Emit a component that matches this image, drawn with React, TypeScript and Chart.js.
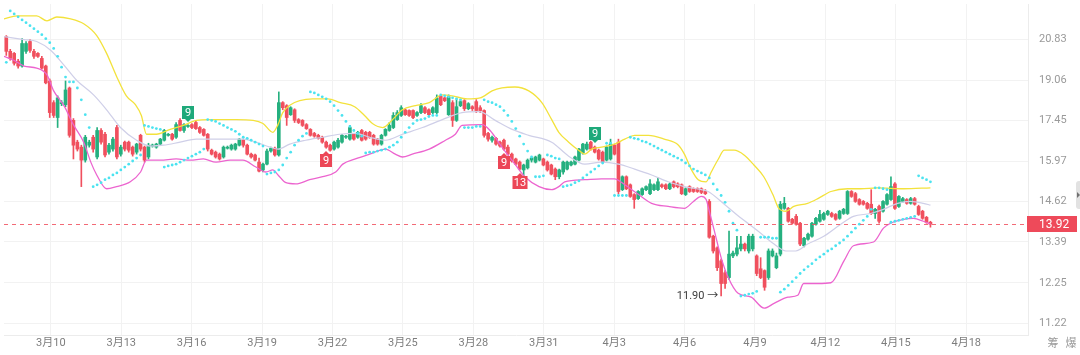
import React, { useEffect, useRef } from "react";
import { Chart, registerables } from "chart.js";

Chart.register(...registerables);

// ---------- data ----------
// candles: [open, high, low, close], 4h bars
const candles: number[][] = [
  [20.96,21.01,20.12,20.30],[20.30,20.39,19.91,19.99],[20.21,20.25,19.70,19.78],[19.87,19.95,19.57,19.66],[19.66,20.87,19.61,20.65],[20.30,20.74,20.21,20.65],
  [20.74,20.83,20.25,20.34],[20.30,20.39,19.99,20.08],[20.21,20.25,20.03,20.08],[19.99,20.08,19.53,19.57],[19.66,19.70,18.91,18.95],[19.03,19.11,17.57,17.76],
  [18.15,18.23,17.57,17.65],[17.57,18.42,17.19,18.34],[18.11,18.23,18.03,18.15],[18.07,19.03,17.99,18.66],[18.74,18.78,16.83,16.90],[17.46,17.53,16.05,16.54],
  [16.65,16.72,16.33,16.40],[16.47,16.54,15.11,16.01],[16.01,16.90,15.94,16.83],[16.54,16.72,16.47,16.65],[16.83,16.90,16.29,16.40],[16.12,17.19,16.05,17.08],
  [17.08,17.15,16.58,16.65],[16.94,17.01,16.12,16.19],[16.29,16.61,16.22,16.54],[16.40,16.83,16.33,16.76],[17.19,17.27,16.05,16.12],[16.22,16.54,16.15,16.47],
  [16.65,16.69,16.33,16.40],[16.65,16.69,16.29,16.36],[16.47,16.51,16.15,16.22],[16.29,16.61,16.22,16.58],[16.90,16.94,16.33,16.40],[16.47,16.51,15.94,16.01],
  [16.12,16.61,16.05,16.54],[16.51,16.58,16.47,16.54],[16.47,16.61,16.43,16.58],[16.58,16.79,16.54,16.76],[16.72,17.12,16.69,17.08],[16.90,16.97,16.87,16.94],
  [16.94,16.97,16.72,16.76],[16.83,17.38,16.79,17.30],[17.46,17.53,17.05,17.08],[17.08,17.34,17.01,17.30],[17.23,17.30,17.19,17.27],[17.30,17.34,17.15,17.19],
  [17.38,17.42,17.12,17.15],[17.19,17.23,16.97,17.01],[17.12,17.15,16.87,16.90],[16.94,16.97,16.33,16.40],[16.36,16.40,16.19,16.22],[16.29,16.33,16.08,16.12],
  [16.22,16.26,16.01,16.05],[16.12,16.51,16.08,16.47],[16.43,16.51,16.40,16.47],[16.40,16.58,16.36,16.54],[16.40,16.61,16.36,16.58],[16.54,16.79,16.51,16.76],
  [16.72,16.76,16.47,16.54],[16.54,16.58,16.19,16.22],[16.22,16.26,16.08,16.12],[16.19,16.22,15.98,16.01],[15.94,16.08,15.60,15.63],[15.67,15.91,15.60,15.87],
  [15.87,16.40,15.84,16.33],[16.33,16.47,16.29,16.43],[16.43,16.47,16.15,16.19],[16.19,18.58,16.15,18.15],[18.15,18.19,17.87,17.95],[18.03,18.07,17.27,17.57],
  [17.68,17.99,17.65,17.95],[17.87,17.91,17.38,17.46],[17.49,17.53,17.34,17.38],[17.46,17.49,17.23,17.27],[17.30,17.34,17.12,17.15],[17.12,17.15,16.87,16.90],
  [16.97,17.01,16.83,16.87],[16.90,16.94,16.76,16.79],[16.83,16.87,16.61,16.65],[16.65,16.69,16.43,16.47],[16.54,16.58,16.33,16.36],[16.40,16.69,16.36,16.65],
  [16.47,16.79,16.43,16.72],[16.65,16.94,16.61,16.90],[16.83,16.90,16.79,16.87],[16.76,17.27,16.72,17.19],[16.94,16.97,16.72,16.76],[16.83,17.05,16.79,17.01],
  [17.08,17.12,16.69,16.72],[17.01,17.05,16.72,16.76],[17.01,17.05,16.79,16.83],[16.90,16.94,16.54,16.58],[16.76,16.79,16.54,16.58],[16.58,16.94,16.54,16.90],
  [16.90,17.15,16.87,17.12],[17.08,17.38,17.05,17.27],[17.19,17.76,17.15,17.65],[17.49,17.84,17.46,17.76],[17.65,18.03,17.61,17.95],[17.87,17.91,17.65,17.68],
  [17.84,17.87,17.61,17.65],[17.84,17.87,17.53,17.57],[17.65,17.80,17.61,17.76],[17.76,18.11,17.72,18.03],[17.95,17.99,17.72,17.76],[17.87,17.91,17.65,17.68],
  [17.76,17.99,17.72,17.95],[17.76,18.46,17.72,18.34],[18.42,18.46,18.03,18.07],[18.34,18.38,18.19,18.23],[17.68,18.46,17.65,18.38],[18.15,18.23,17.23,17.46],
  [17.46,18.30,17.42,17.99],[18.03,18.27,17.99,18.19],[18.23,18.27,17.84,17.91],[17.91,18.15,17.87,18.11],[17.99,18.03,17.84,17.91],[18.19,18.27,17.76,17.84],
  [17.95,18.03,17.76,17.84],[17.84,17.87,16.83,16.90],[16.97,17.01,16.69,16.76],[16.72,16.87,16.65,16.83],[16.79,16.83,16.54,16.58],[16.65,16.69,16.47,16.51],
  [16.72,16.76,16.36,16.40],[16.47,16.54,16.19,16.22],[16.22,16.26,15.94,15.98],[16.05,16.08,15.84,15.87],[15.94,15.98,15.67,15.70],[15.67,15.87,15.44,15.84],
  [15.74,16.05,15.70,16.01],[16.01,16.12,15.94,16.08],[15.94,16.15,15.91,16.12],[16.01,16.22,15.98,16.19],[16.05,16.08,15.81,15.84],[15.94,15.98,15.63,15.67],
  [15.84,15.87,15.50,15.53],[15.70,15.74,15.34,15.44],[15.44,15.70,15.37,15.67],[15.60,15.98,15.53,15.94],[15.70,15.98,15.67,15.94],[15.84,15.98,15.81,15.94],
  [15.87,16.15,15.84,16.12],[16.01,16.43,15.98,16.40],[16.26,16.61,16.22,16.58],[16.40,16.65,16.36,16.58],[16.65,16.69,16.36,16.40],[16.47,16.51,16.26,16.29],
  [16.36,16.40,16.01,16.05],[16.29,16.33,15.91,15.94],[16.01,16.51,15.98,16.47],[16.05,16.76,16.01,16.58],[16.54,16.58,16.19,16.22],[16.65,16.76,14.88,14.95],
  [15.01,15.47,14.98,15.44],[15.44,15.47,15.01,15.04],[15.17,15.20,14.76,14.79],[14.85,14.88,14.41,14.69],[14.72,14.98,14.69,14.95],[14.85,15.07,14.82,15.04],
  [15.01,15.14,14.98,15.11],[14.88,15.34,14.85,15.20],[15.01,15.20,14.98,15.17],[15.01,15.40,14.98,15.27],[15.17,15.20,15.07,15.11],[15.17,15.20,15.01,15.04],
  [15.04,15.24,15.01,15.20],[15.27,15.30,15.07,15.11],[15.20,15.24,15.07,15.11],[15.17,15.20,14.85,14.88],[14.85,15.07,14.82,15.04],[15.11,15.14,14.92,14.95],
  [15.04,15.07,14.92,14.95],[15.04,15.07,14.92,14.95],[15.04,15.07,14.88,14.92],[14.95,15.01,14.85,14.88],[14.63,14.69,13.50,13.53],[13.56,13.59,13.07,13.13],
  [13.22,13.25,12.58,12.66],[12.85,12.90,11.90,12.23],[12.52,12.58,12.10,12.23],[12.39,13.71,12.34,13.04],[12.99,13.13,12.94,13.07],[13.04,13.56,12.99,13.22],
  [13.19,13.56,13.13,13.33],[13.33,13.36,13.13,13.19],[13.13,13.62,13.07,13.56],[13.19,13.62,13.13,13.56],[12.99,13.02,12.44,12.50],[12.63,12.94,12.36,12.39],
  [12.58,12.60,12.05,12.13],[12.39,13.19,12.34,13.13],[12.99,13.19,12.96,13.13],[12.66,13.07,12.63,12.99],[13.04,14.63,12.99,14.54],[14.41,14.76,14.38,14.57],
  [14.41,14.44,13.98,14.01],[14.07,14.10,13.92,13.95],[14.16,14.22,13.89,13.92],[13.95,13.98,13.28,13.33],[13.28,13.53,13.25,13.50],[13.47,13.65,13.44,13.62],
  [13.56,13.98,13.53,13.95],[13.92,14.13,13.89,14.10],[14.01,14.35,13.98,14.22],[14.07,14.29,14.04,14.25],[14.22,14.35,14.19,14.32],[14.25,14.29,14.13,14.16],
  [14.22,14.25,14.04,14.07],[14.10,14.35,14.07,14.32],[14.25,14.41,14.22,14.38],[14.25,14.98,14.22,14.95],[14.95,14.98,14.76,14.79],[14.88,14.92,14.60,14.63],
  [14.69,14.72,14.51,14.54],[14.63,14.66,14.51,14.54],[14.57,14.60,14.38,14.41],[14.54,15.01,14.22,14.25],[14.25,14.41,14.10,14.38],[14.47,14.51,13.95,14.01],
  [14.32,14.66,14.29,14.63],[14.54,14.88,14.51,14.85],[14.69,15.44,14.66,15.11],[15.20,15.24,14.38,14.41],[14.47,14.82,14.44,14.79],[14.63,14.76,14.60,14.72],
  [14.69,14.72,14.54,14.57],[14.57,14.76,14.54,14.72],[14.72,14.76,14.51,14.54],[14.47,14.51,14.19,14.22],[14.32,14.35,14.07,14.10],[14.13,14.16,13.95,13.98],
  [13.98,14.01,13.83,13.92],
];

// parabolic SAR, one value per candle
const sar: number[] = [
  19.82,
  22.17,22.03,21.89,21.74,21.61,21.47,21.33,21.19,21.05,20.87,20.69,20.43,20.08,19.61,19.19,18.99,18.99,18.74,18.26,17.68,17.19,
  15.11,15.17,15.24,15.34,15.40,15.50,15.57,15.67,15.77,15.87,15.98,16.08,16.19,
  17.27,17.23,17.19,17.15,17.12,
  15.77,15.81,15.84,15.87,15.94,16.01,16.08,16.15,16.22,16.29,16.40,
  17.49,17.46,17.42,17.34,17.27,17.19,17.12,17.05,16.94,16.83,16.79,16.72,16.65,16.58,16.51,
  15.53,15.57,15.60,15.67,15.84,16.08,16.29,16.54,16.72,16.87,16.97,
  18.58,18.54,18.46,18.38,18.30,18.19,18.03,17.84,17.65,17.42,17.23,17.08,16.97,16.87,
  16.26,16.29,16.29,16.33,16.36,16.40,16.47,16.54,16.65,16.83,17.01,17.19,17.34,17.46,17.49,17.53,17.61,17.65,17.65,
  18.46,18.42,18.38,18.34,18.30,18.26,
  17.19,17.19,17.19,17.23,17.23,
  18.26,18.19,18.15,18.07,17.99,17.84,17.65,17.42,17.15,16.87,16.58,16.33,16.12,
  15.44,15.44,15.47,
  16.19,16.15,16.08,16.05,
  15.11,15.14,15.17,15.24,15.30,15.40,15.50,15.60,15.70,15.81,15.91,
  16.61,16.61,
  14.82,14.82,14.82,14.82,
  16.83,16.79,16.76,16.69,16.65,16.58,16.51,16.43,16.36,16.29,16.22,16.15,16.08,16.01,15.91,15.81,15.70,15.63,15.57,15.50,15.40,15.20,15.01,14.82,14.60,14.32,13.95,13.74,
  11.90,11.92,11.95,11.97,12.02,
  13.53,13.53,13.53,13.50,13.50,
  12.00,12.08,12.18,12.28,12.39,12.50,12.60,12.69,12.77,12.88,12.96,13.04,13.13,13.19,13.28,13.36,13.45,13.56,13.68,13.80,13.92,14.04,14.16,14.38,
  15.07,15.07,15.04,15.01,
  13.98,14.01,14.04,14.07,14.10,14.13,14.16,
  15.47,15.40,15.34,15.27,
];

// Bollinger bands: [bar index, price]
const upperBand: number[][] = [
  [-0.58,21.79],[2.7,21.93],[7.7,21.93],[10.3,21.70],[12.8,21.88],[16.3,21.79],[19.6,21.56],[22.9,21.01],[25.4,20.21],[27.9,19.23],
  [30.4,18.42],[32.7,18.07],[34.2,17.65],[35.5,16.94],[38,16.94],[41.5,17.12],[44.8,17.27],[48.1,17.46],[51.6,17.49],[58.2,17.49],
  [62.5,17.46],[65,17.34],[67.5,17.01],[68.8,17.30],[70,17.76],[72,18.07],[74.3,18.23],[77.6,18.30],[81.4,18.30],[84.6,18.15],
  [88.2,17.99],[90.7,17.65],[92.7,17.34],[95.3,17.19],[97.8,17.49],[100.3,17.87],[103.6,18.03],[107.1,18.15],[110.4,18.46],[112.9,18.42],
  [116.7,18.30],[120,18.34],[123,18.62],[125.5,18.74],[128.8,18.78],[132.3,18.62],[135.6,18.15],[138.1,17.49],[139.9,17.01],[142.4,16.65],
  [144.9,16.36],[146.5,16.22],[148.2,16.40],[150.7,16.47],[154,16.58],[156.6,16.76],[159.1,16.90],[162.6,16.90],[166.6,16.76],[170.2,16.54],
  [171.7,16.22],[173.4,15.70],[175.2,15.34],[177.2,15.27],[178.5,15.60],[180.3,16.05],[181.8,16.36],[184.3,16.36],[186.8,16.19],[189.3,15.84],
  [191.8,15.44],[194.1,14.85],[195.6,14.41],[197.4,14.32],[199.4,14.47],[202.9,14.57],[205.5,14.72],[208.8,14.95],[213,15.04],[216.3,15.04],
  [220.6,15.07],[227.2,15.04],[234,15.07],
];
const middleBand: number[][] = [
  [-0.58,20.96],[4.5,20.83],[7.7,20.74],[11.3,20.34],[14.6,19.70],[17.8,19.06],[22.1,18.46],[25.4,17.87],[28.9,17.19],[33,16.72],
  [36.5,16.51],[39.8,16.54],[44,16.65],[48.1,16.76],[54.9,16.76],[59.9,16.76],[63.2,16.65],[66.8,16.47],[68.8,16.40],[71.8,16.58],
  [75.8,16.72],[80.1,16.83],[84.4,16.94],[88.4,16.97],[92,16.83],[96,16.72],[100.3,16.94],[105.4,17.19],[110.4,17.49],[115.4,17.76],
  [119.7,17.80],[123.8,17.46],[128.1,17.12],[132.3,16.90],[138.1,16.65],[142.4,16.15],[146.5,15.87],[150.7,15.94],[155,15.87],[159.1,15.70],
  [163.4,15.50],[167.6,15.27],[171.7,15.11],[176,15.01],[177.7,14.95],[181.8,14.54],[186.1,14.10],[190.4,13.71],[194.4,13.33],[197.4,13.13],
  [199.9,13.13],[202.9,13.33],[207,13.56],[211.3,13.92],[214.5,14.16],[218.8,14.25],[222.1,14.38],[225.7,14.57],[228.9,14.63],[232.2,14.57],
  [234,14.51],
];
const lowerBand: number[][] = [
  [-0.58,20.08],[1.9,19.91],[4.5,19.66],[7.7,19.57],[10.3,19.28],[12,18.62],[14.6,18.03],[17.1,17.27],[19.6,16.65],[21.4,15.94],
  [22.9,15.50],[25.4,15.04],[27.9,15.11],[31.4,15.27],[34,15.60],[35.5,16.01],[39,16.01],[43,16.05],[46.6,16.01],[49.9,16.05],
  [53.1,15.94],[56.7,16.01],[59.9,16.01],[63.2,15.77],[65.7,15.60],[67.5,15.67],[68.8,15.50],[70.8,15.24],[73.3,15.20],[76.8,15.34],
  [80.1,15.44],[83.4,15.60],[85.2,15.87],[88.4,16.05],[92,16.22],[96,16.40],[98.5,16.22],[100.3,16.12],[102.8,16.22],[107.1,16.40],
  [111.2,16.72],[113.7,16.94],[115.4,17.27],[120.5,17.30],[122.5,17.08],[125.5,16.47],[128.8,15.87],[131.3,15.44],[134.9,15.11],[138.1,15.01],
  [139.9,15.11],[141.4,15.27],[146.5,15.34],[150.7,15.37],[154,15.37],[156.6,15.17],[160.1,14.85],[163.4,14.57],[167.6,14.47],[171.7,14.41],
  [174,14.63],[176,14.79],[177.2,14.69],[178,14.32],[179.3,13.71],[181,12.94],[182.8,12.39],[185.3,11.97],[188.6,11.87],[191.9,11.59],
  [194.4,11.71],[197.9,11.87],[200.4,11.92],[201.9,12.23],[205.5,12.23],[208.8,12.25],[212.1,12.85],[214.5,13.28],[219.6,13.39],[222.1,13.80],
  [223.9,13.95],[227.2,14.07],[229.7,14.10],[232.2,14.01],[234,13.92],
];

// x-axis date ticks (position in bar-index units) and labels
const xTickPos = [11.27, 29.10, 46.93, 64.76, 82.59, 100.42, 118.25, 136.08, 153.91, 171.74, 189.57, 207.40, 225.23, 243.06];
const xTickLabels = ["3月10", "3月13", "3月16", "3月19", "3月22", "3月25", "3月28", "3月31", "4月3", "4月6", "4月9", "4月12", "4月15", "4月18"];
const yTicks = [11.22, 12.25, 13.39, 14.62, 15.97, 17.45, 19.06, 20.83];

// TD-sequential style count markers
const markerIdx = [46, 81, 126, 130, 149];
const markerText = ["9", "9", "9", "13", "9"];
const markerSide = ["up", "down", "down", "down", "up"];
const lowIdx = 181;

const GREEN = "#25b07f";
const RED = "#f0505e";
const YELLOW = "#f3e23c";
const MID = "#cfcfe8";
const PINK = "#ec64cf";
const CYAN = "#4be3f0";
const FONT = "Roboto, 'Noto Sans CJK SC', sans-serif";

export default function App() {
  const ref = useRef<HTMLCanvasElement | null>(null);

  useEffect(() => {
    const canvas = ref.current;
    if (!canvas) return;
    const colors = candles.map((c) => (c[3] >= c[0] ? GREEN : RED));
    const lastPrice = candles[candles.length - 1][3];

    const overlay = {
      id: "overlay",
      afterDatasetsDraw(chart: any) {
        const { ctx, chartArea, scales } = chart;
        const xs = scales.x, ys = scales.y;
        ctx.save();
        // last price dashed line
        const py = Math.round(ys.getPixelForValue(lastPrice)) + 0.5;
        ctx.setLineDash([4, 4]);
        ctx.strokeStyle = "rgba(240,80,94,0.85)";
        ctx.lineWidth = 1;
        ctx.beginPath();
        ctx.moveTo(chartArea.left, py);
        ctx.lineTo(chartArea.right, py);
        ctx.stroke();
        ctx.setLineDash([]);
        // count markers
        ctx.font = "11px " + FONT;
        ctx.textAlign = "center";
        ctx.textBaseline = "middle";
        markerIdx.forEach((idx, k) => {
          const up = markerSide[k] === "up";
          const c = candles[idx];
          const px = Math.round(xs.getPixelForValue(idx));
          const cy = Math.round(ys.getPixelForValue(up ? c[1] : c[2]));
          const txt = markerText[k];
          const w = txt.length > 1 ? 15 : 12;
          const h = 13;
          const tip = up ? cy - 3 : cy + 3;
          const base = up ? tip - 3 : tip + 3;
          const top = up ? base - h : base;
          ctx.fillStyle = up ? "#1ea97a" : "#ec4656";
          ctx.fillRect(px - w / 2, top, w, h);
          ctx.beginPath();
          ctx.moveTo(px - 3, base);
          ctx.lineTo(px + 3, base);
          ctx.lineTo(px, tip);
          ctx.closePath();
          ctx.fill();
          ctx.fillStyle = "#ffffff";
          ctx.fillText(txt, px, top + h / 2 + 0.5);
        });
        // lowest price annotation
        const lc = candles[lowIdx];
        ctx.fillStyle = "#3c3c3c";
        ctx.textAlign = "right";
        ctx.fillText(lc[2].toFixed(2) + " →", xs.getPixelForValue(lowIdx) - 3, ys.getPixelForValue(lc[2]));
        ctx.restore();
      },
      afterDraw(chart: any) {
        const { ctx, chartArea, scales } = chart;
        const ys = scales.y;
        ctx.save();
        const py = Math.round(ys.getPixelForValue(lastPrice));
        ctx.fillStyle = "#ee4a5a";
        ctx.fillRect(chartArea.right - 1, py - 8, 50, 16);
        ctx.fillStyle = "#ffffff";
        ctx.font = "12px " + FONT;
        ctx.textAlign = "left";
        ctx.textBaseline = "middle";
        ctx.fillText(lastPrice.toFixed(2), chartArea.right + 11, py + 0.5);
        ctx.fillStyle = "#9a9a9a";
        ctx.font = "11px 'Noto Sans CJK SC', sans-serif";
        ctx.textAlign = "center";
        ctx.fillText("筹", 1053, 343);
        ctx.fillText("爆", 1071, 343);
        ctx.restore();
      },
    };

    const lineDs = (pts: number[][], color: string, width: number) => ({
      type: "line",
      data: pts.map((p) => ({ x: p[0], y: p[1] })),
      borderColor: color,
      borderWidth: width,
      pointRadius: 0,
      cubicInterpolationMode: "monotone",
      order: 1,
    });

    const chart = new Chart(canvas, {
      type: "line",
      data: {
        datasets: [
          {
            type: "bar",
            data: candles.map((c, i) => ({ x: i, y: [c[2], c[1]] })),
            backgroundColor: colors,
            barThickness: 1,
            grouped: false,
            minBarLength: 1,
            order: 3,
          },
          {
            type: "bar",
            data: candles.map((c, i) => ({ x: i, y: [c[0], c[3]] })),
            backgroundColor: colors,
            barThickness: 3,
            grouped: false,
            minBarLength: 1,
            order: 2,
          },
          lineDs(upperBand, YELLOW, 1.3),
          lineDs(middleBand, MID, 1.2),
          lineDs(lowerBand, PINK, 1.3),
          {
            type: "line",
            data: sar.map((v, i) => ({ x: i, y: v })),
            showLine: false,
            pointRadius: 1.4,
            pointBackgroundColor: CYAN,
            pointBorderWidth: 0,
            order: 0,
          },
        ] as any,
      },
      options: {
        responsive: false,
        animation: false,
        devicePixelRatio: 1,
        layout: { padding: 0 },
        events: [],
        plugins: { legend: { display: false }, tooltip: { enabled: false } },
        scales: {
          x: {
            type: "linear",
            min: -0.58,
            max: 258.7,
            bounds: "data",
            offset: false,
            grid: { color: "#f2f2f2", drawTicks: false, offset: false },
            border: { color: "#ececec" },
            ticks: {
              autoSkip: false,
              maxRotation: 0,
              padding: 2,
              color: "#7d7d7d",
              font: { size: 11, family: FONT },
              callback: (_v: any, i: number) => xTickLabels[i] ?? "",
            },
            afterBuildTicks: (s: any) => {
              s.ticks = xTickPos.map((v) => ({ value: v }));
            },
            afterFit: (s: any) => {
              s.height = 20;
              s.paddingLeft = 0;
              s.paddingRight = 0;
            },
          },
          y: {
            type: "logarithmic",
            position: "right",
            min: 10.93,
            max: 22.51,
            bounds: "data",
            grid: { color: "#f2f2f2", drawTicks: false },
            border: { color: "#ececec" },
            ticks: {
              autoSkip: false,
              padding: 11,
              color: "#9a9a9a",
              font: { size: 11, family: FONT },
              callback: (v: any) => Number(v).toFixed(2),
            },
            afterBuildTicks: (s: any) => {
              s.ticks = yTicks.map((v) => ({ value: v }));
            },
            afterFit: (s: any) => {
              s.width = 52;
              s.paddingTop = 0;
              s.paddingBottom = 0;
            },
          },
        },
      } as any,
      plugins: [overlay],
    });
    return () => chart.destroy();
  }, []);

  return (
    <div style={{ position: "absolute", left: 0, top: 0, width: 1080, height: 355, background: "#ffffff", overflow: "hidden" }}>
      <canvas ref={ref} width={1080} height={355} style={{ display: "block" }} />
      <div style={{ position: "absolute", left: 1076, top: 181, width: 4, height: 28, background: "#e2e2e2", borderRadius: "3px 0 0 3px" }} />
      <div style={{ position: "absolute", left: 1077, top: 192, width: 0, height: 0, borderTop: "3px solid transparent", borderBottom: "3px solid transparent", borderLeft: "3px solid #707070" }} />
    </div>
  );
}
